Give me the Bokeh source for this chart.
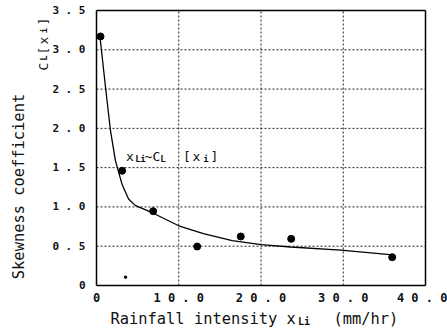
import math
from bokeh.plotting import figure
from bokeh.models import Label, FixedTicker, Range1d, LinearAxis, Grid
from bokeh.embed import file_html
from bokeh.resources import INLINE

# ---- data ----
obs_x = [0.49, 3.12, 6.89, 12.24, 17.54, 23.67, 35.95]
obs_y = [3.17, 1.46, 0.946, 0.496, 0.624, 0.594, 0.36]
speck_x = [3.53]
speck_y = [0.106]
curve_x = [0.45, 1.1, 1.7, 2.3, 3.1, 3.9, 4.7, 6.9, 10.0, 13.0, 16.5, 20.0, 23.6, 29.7, 36.0]
curve_y = [3.14, 2.52, 1.97, 1.59, 1.29, 1.10, 1.02, 0.92, 0.76, 0.66, 0.57, 0.52, 0.49, 0.45, 0.39]
x_ticks = [0, 10, 20, 30, 40]
x_tick_labels = ["0", "1 0 . 0", "2 0 . 0", "3 0 . 0", "4 0 . 0"]
y_ticks = [0, 0.5, 1.0, 1.5, 2.0, 2.5, 3.0, 3.5]
y_tick_labels = ["0", "0 . 5", "1 . 0", "1 . 5", "2 . 0", "2 . 5", "3 . 0", "3 . 5"]
X0, X1, Y0, Y1 = 0, 40, 0, 3.5

# ---- layout (pixels) ----
W, H = 447, 330
BOX_L, BOX_R, BOX_T, BOX_B = 96, 425, 10, 285
sx = (BOX_R - BOX_L) / (X1 - X0)
sy = (BOX_B - BOX_T) / (Y1 - Y0)
xr = Range1d(X0 - BOX_L / sx, X1 + (W - BOX_R) / sx)
yr = Range1d(Y0 - (H - BOX_B) / sy, Y1 + BOX_T / sy)

FONT = "DejaVu Sans Mono"
INK = "#111111"

p = figure(width=W, height=H, output_backend="svg", toolbar_location=None,
           x_range=xr, y_range=yr, x_axis_location=None, y_axis_location=None,
           min_border=0)
p.min_border_left = p.min_border_right = p.min_border_top = p.min_border_bottom = 0
p.outline_line_color = None
p.background_fill_color = "white"
p.border_fill_color = "white"
p.center = [r for r in p.center if not isinstance(r, Grid)]


def make_axis(loc, bounds, ticks, labels, size):
    ax = LinearAxis(fixed_location=loc, bounds=bounds, ticker=FixedTicker(ticks=ticks),
                    major_tick_in=0, major_tick_out=0, minor_tick_in=0, minor_tick_out=0,
                    axis_line_color="black", axis_line_width=1.5,
                    major_label_text_font=FONT, major_label_text_font_size=size,
                    major_label_text_font_style="bold", major_label_text_color=INK)
    ax.major_label_overrides = {t: l for t, l in zip(ticks, labels)}
    return ax


xaxis = make_axis(Y0, (X0, X1), x_ticks, x_tick_labels, "12px")
xaxis.major_label_standoff = 5
yaxis = make_axis(X0, (Y0, Y1), y_ticks, y_tick_labels, "11px")
yaxis.major_label_standoff = 11
top_axis = make_axis(Y1, (X0, X1), [], [], "1px")
right_axis = make_axis(X1, (Y0, Y1), [], [], "1px")
p.add_layout(xaxis, "below")
p.add_layout(yaxis, "left")
p.add_layout(top_axis, "above")
p.add_layout(right_axis, "right")

# grid lines inside the box only
gx = [t for t in x_ticks if X0 < t < X1]
gy = [t for t in y_ticks if Y0 < t < Y1]
grid_style = dict(line_color="#222222", line_dash="2 2", line_width=1)
p.segment(x0=gx, y0=[Y0] * len(gx), x1=gx, y1=[Y1] * len(gx), **grid_style)
p.segment(x0=[X0] * len(gy), y0=gy, x1=[X1] * len(gy), y1=gy, **grid_style)

p.line(curve_x, curve_y, line_color="black", line_width=1.3)
p.scatter(obs_x, obs_y, size=7, color="black")
p.scatter(speck_x, speck_y, size=2.5, color="black")


def put(text, px, py, size, angle=0.0, align="center", baseline="alphabetic", style="normal"):
    p.add_layout(Label(x=px, y=py, x_units="canvas", y_units="canvas",
                       text=text, angle=angle,
                       text_font=FONT, text_font_size=size, text_font_style=style,
                       text_align=align, text_baseline=baseline, text_color=INK))


# in-plot annotation  x_Li ~ C_L[x_i]
main, sub = "13px", "9px"
put("x", 129.5, 156, main)
put("L", 137.5, 158, sub, style="bold")
put("i", 142.5, 158, sub, style="bold")
put("~", 148, 156, main)
put("C", 156, 156, main)
put("L", 162.5, 158, sub, style="bold")
put("[", 186.5, 156, main)
put("x", 196, 156, main)
put("i", 205.5, 158, sub, style="bold")
put("]", 214, 156, main)

# y axis title pieces (rotated, reading upward)
rot = math.pi / 2
put("Skewness coefficient", 18.5, 186, "15.4px", angle=rot, baseline="middle")
put("C", 42.5, 66, "13px", angle=rot)
put("L", 43.5, 57.5, "9px", angle=rot, style="bold")
put("[", 42.5, 50, "13px", angle=rot)
put("x", 42.5, 40, "13px", angle=rot)
put("i", 43.5, 30, "9px", angle=rot, style="bold")
put("]", 42.5, 21, "13px", angle=rot)

# x axis title pieces
put("Rainfall intensity x", 110, 318, "15.4px", align="left")
put("Li", 303.5, 320.5, "10px", style="bold")
put("(mm/hr)", 333, 318, "15.4px", align="left")

open("out.html", "w").write(file_html(p, INLINE))
